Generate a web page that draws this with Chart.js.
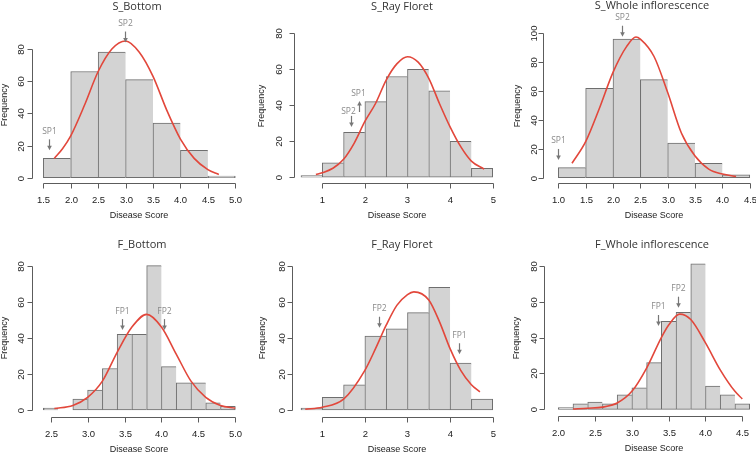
<!DOCTYPE html>
<html>
<head>
<meta charset="utf-8">
<script src="https://cdn.jsdelivr.net/npm/chart.js@4.4.1/dist/chart.umd.min.js"></script>
<style>
html,body{margin:0;padding:0;background:#fff;}
#wrap{position:relative;width:756px;height:452px;overflow:hidden;background:#fff;}
#wrap canvas{position:absolute;}
</style>
</head>
<body>
<div id="wrap"></div>
<script>
// ---------- DATA ----------
// S_Bottom
const sBottomBinMids = [1.75, 2.25, 2.75, 3.25, 3.75, 4.25, 4.75];
const sBottomCounts  = [12, 66, 78, 61, 34, 17, 1];
const sBottomCurveX  = [1.7, 1.85, 2.0, 2.25, 2.5, 2.75, 3.0, 3.25, 3.5, 3.75, 4.0, 4.25, 4.5, 4.7];
const sBottomCurveY  = [12, 18, 26, 45, 66, 80, 85, 78, 63, 42, 24, 12, 5, 2];
const sBottomTicksX  = ['1.5', '2.0', '2.5', '3.0', '3.5', '4.0', '4.5', '5.0'];
const sBottomTicksY  = [0, 20, 40, 60, 80];
const sBottomMarkLabels = ['SP1', 'SP2'];
const sBottomMarkX   = [1.61, 2.99];
const sBottomMarkY   = [17, 84];
const sBottomMarkDir = ['down', 'down'];

// S_Ray Floret
const sRayBinMids = [0.75, 1.25, 1.75, 2.25, 2.75, 3.25, 3.75, 4.25, 4.75];
const sRayCounts  = [1, 8, 25, 42, 56, 60, 48, 20, 5];
const sRayCurveX  = [0.85, 1.0, 1.25, 1.5, 1.75, 2.0, 2.25, 2.5, 2.75, 3.0, 3.25, 3.5, 3.75, 4.0, 4.25, 4.5, 4.8];
const sRayCurveY  = [1.5, 2.5, 5, 10, 19, 31, 41, 54, 63, 67, 64, 55, 41, 28, 17, 9, 4.5];
const sRayTicksX  = ['1', '2', '3', '4', '5'];
const sRayTicksY  = [0, 20, 40, 60, 80];
const sRayMarkLabels = ['SP1', 'SP2'];
const sRayMarkX   = [1.86, 1.67];
const sRayMarkY   = [42.4, 28];
const sRayMarkDir = ['up', 'down'];

// S_Whole inflorescence
const sWholeBinMids = [1.25, 1.75, 2.25, 2.75, 3.25, 3.75, 4.25];
const sWholeCounts  = [7, 62, 96, 68, 24, 10, 2];
const sWholeCurveX  = [1.25, 1.5, 1.75, 2.0, 2.25, 2.42, 2.5, 2.75, 3.0, 3.25, 3.5, 3.75, 4.0, 4.25];
const sWholeCurveY  = [10, 25, 48, 73, 91, 97.5, 96, 84, 59, 31, 15, 6, 2.5, 0.8];
const sWholeTicksX  = ['1.0', '1.5', '2.0', '2.5', '3.0', '3.5', '4.0', '4.5'];
const sWholeTicksY  = [0, 20, 40, 60, 80, 100];
const sWholeMarkLabels = ['SP1', 'SP2'];
const sWholeMarkX   = [0.99, 2.17];
const sWholeMarkY   = [12.3, 97.7];
const sWholeMarkDir = ['down', 'down'];

// F_Bottom
const fBottomBinMids = [2.5, 2.7, 2.9, 3.1, 3.3, 3.5, 3.7, 3.9, 4.1, 4.3, 4.5, 4.7, 4.9];
const fBottomCounts  = [1, 0, 6, 11, 23, 42, 42, 80, 24, 15, 15, 4, 2];
const fBottomCurveX  = [2.55, 2.8, 3.0, 3.2, 3.4, 3.6, 3.8, 4.0, 4.2, 4.4, 4.6, 4.8, 5.0];
const fBottomCurveY  = [0.8, 2.5, 7, 16, 32, 46, 53, 46, 31, 16, 7, 2.5, 1];
const fBottomTicksX  = ['2.5', '3.0', '3.5', '4.0', '4.5', '5.0'];
const fBottomTicksY  = [0, 20, 40, 60, 80];
const fBottomMarkLabels = ['FP1', 'FP2'];
const fBottomMarkX   = [3.46, 4.04];
const fBottomMarkY   = [44.3, 44.3];
const fBottomMarkDir = ['down', 'down'];

// F_Ray Floret
const fRayBinMids = [0.75, 1.25, 1.75, 2.25, 2.75, 3.25, 3.75, 4.25, 4.75];
const fRayCounts  = [1, 7, 14, 41, 45, 54, 68, 26, 6];
const fRayCurveX  = [0.6, 1.0, 1.5, 2.0, 2.25, 2.5, 2.75, 3.0, 3.15, 3.5, 3.75, 4.0, 4.25, 4.5, 4.7];
const fRayCurveY  = [0.4, 1.5, 6, 22, 34, 47, 58, 64, 65.5, 61, 49, 34, 22, 14, 10];
const fRayTicksX  = ['1', '2', '3', '4', '5'];
const fRayTicksY  = [0, 20, 40, 60, 80];
const fRayMarkLabels = ['FP2', 'FP1'];
const fRayMarkX   = [2.34, 4.22];
const fRayMarkY   = [45.6, 30.9];
const fRayMarkDir = ['down', 'down'];

// F_Whole inflorescence
const fWholeBinMids = [2.1, 2.3, 2.5, 2.7, 2.9, 3.1, 3.3, 3.5, 3.7, 3.9, 4.1, 4.3, 4.5];
const fWholeCounts  = [1, 3, 4, 3, 8, 12, 26, 49, 54, 81, 13, 8, 3];
const fWholeCurveX  = [2.2, 2.4, 2.6, 2.8, 3.0, 3.2, 3.4, 3.5, 3.65, 3.8, 4.0, 4.2, 4.4, 4.5];
const fWholeCurveY  = [0.2, 0.6, 1.2, 3.5, 10, 23, 40, 47, 53, 50, 37, 22, 10, 5.8];
const fWholeTicksX  = ['2.0', '2.5', '3.0', '3.5', '4.0', '4.5'];
const fWholeTicksY  = [0, 20, 40, 60, 80];
const fWholeMarkLabels = ['FP1', 'FP2'];
const fWholeMarkX   = [3.36, 3.62];
const fWholeMarkY   = [46.4, 56.6];
const fWholeMarkDir = ['down', 'down'];

const panelTitles = ['S_Bottom', 'S_Ray Floret', 'S_Whole inflorescence',
                     'F_Bottom', 'F_Ray Floret', 'F_Whole inflorescence'];
const xAxisTitle = 'Disease Score';
const yAxisTitle = 'Frequency';

// ---------- PANELS (layout) ----------
const panels = [
  {title: panelTitles[0], mids: sBottomBinMids, counts: sBottomCounts, cx: sBottomCurveX, cy: sBottomCurveY,
   tx: sBottomTicksX, ty: sBottomTicksY, ml: sBottomMarkLabels, mx: sBottomMarkX, my: sBottomMarkY, md: sBottomMarkDir,
   col: 0, row: 0, pad: [32, 36, 6, 43], xr: [1.294, 5.195], yr: [-3.29, 88.07],
   titleX: 137, titleY: 7, xTitleX: 139, yTitleX: 5, yTitleY: 105, yTickOff: 11.5,
   textDx: [0, 0], textDy: [0, 0]},
  {title: panelTitles[1], mids: sRayBinMids, counts: sRayCounts, cx: sRayCurveX, cy: sRayCurveY,
   tx: sRayTicksX, ty: sRayTicksY, ml: sRayMarkLabels, mx: sRayMarkX, my: sRayMarkY, md: sRayMarkDir,
   col: 1, row: 0, pad: [42, 30, 4, 43], xr: [0.336, 5.172], yr: [-3.17, 81.83],
   titleX: 150, titleY: 7, xTitleX: 145, yTitleX: 10, yTitleY: 106, yTickOff: 15,
   textDx: [-1, -3], textDy: [0, 4]},
  {title: panelTitles[2], mids: sWholeBinMids, counts: sWholeCounts, cx: sWholeCurveX, cy: sWholeCurveY,
   tx: sWholeTicksX, ty: sWholeTicksY, ml: sWholeMarkLabels, mx: sWholeMarkX, my: sWholeMarkY, md: sWholeMarkDir,
   col: 2, row: 0, pad: [39, 30, 2, 43], xr: [0.72, 4.578], yr: [-3.67, 102.36],
   titleX: 148, titleY: 6, xTitleX: 150, yTitleX: 14, yTitleY: 106, yTickOff: 9.5,
   textDx: [0, 0], textDy: [0, 0]},
  {title: panelTitles[3], mids: fBottomBinMids, counts: fBottomCounts, cx: fBottomCurveX, cy: fBottomCurveY,
   tx: fBottomTicksX, ty: fBottomTicksY, ml: fBottomMarkLabels, mx: fBottomMarkX, my: fBottomMarkY, md: fBottomMarkDir,
   col: 0, row: 1, pad: [32, 35, 6, 35], xr: [2.247, 5.145], yr: [-3.88, 82.59],
   titleX: 142, titleY: 19, xTitleX: 139, yTitleX: 4.5, yTitleY: 112, yTickOff: 11,
   textDx: [0, 0], textDy: [0, 0]},
  {title: panelTitles[4], mids: fRayBinMids, counts: fRayCounts, cx: fRayCurveX, cy: fRayCurveY,
   tx: fRayTicksX, ty: fRayTicksY, ml: fRayMarkLabels, mx: fRayMarkX, my: fRayMarkY, md: fRayMarkDir,
   col: 1, row: 1, pad: [40, 35, 4, 35], xr: [0.289, 5.172], yr: [-3.88, 82.59],
   titleX: 150, titleY: 19, xTitleX: 145, yTitleX: 10.5, yTitleY: 112, yTickOff: 10.5,
   textDx: [0, 0], textDy: [0, 0]},
  {title: panelTitles[5], mids: fWholeBinMids, counts: fWholeCounts, cx: fWholeCurveX, cy: fWholeCurveY,
   tx: fWholeTicksX, ty: fWholeTicksY, ml: fWholeMarkLabels, mx: fWholeMarkX, my: fWholeMarkY, md: fWholeMarkDir,
   col: 2, row: 1, pad: [40, 35, 2, 36], xr: [1.806, 4.659], yr: [-3.73, 82.62],
   titleX: 148, titleY: 19, xTitleX: 150, yTitleX: 13, yTitleY: 112, yTickOff: 10.5,
   textDx: [0, 0], textDy: [0, 0]}
];

const TICK_FONT = '9.5px "Liberation Sans", Arial, sans-serif';
const LAB_FONT = '9px "Liberation Sans", Arial, sans-serif';
const TITLE_FONT = '11px "Open Sans", "Noto Sans", sans-serif';
const MARK_FONT = '8.5px "Open Sans", "Noto Sans", sans-serif';

function rStylePlugin(spec, idx) {
  return {
    id: 'rstyle' + idx,
    afterDraw(chart) {
      const ctx = chart.ctx, a = chart.chartArea;
      const xs = chart.scales.x, ys = chart.scales.y;
      ctx.save();
      ctx.lineWidth = 1;
      ctx.strokeStyle = '#5c5c5c';
      // x axis (R style: spans first to last tick)
      const ay = Math.round(a.bottom) + 0.5;
      const px = spec.tx.map(t => Math.round(xs.getPixelForValue(parseFloat(t))) + 0.5);
      ctx.beginPath();
      ctx.moveTo(px[0], ay); ctx.lineTo(px[px.length - 1], ay);
      px.forEach(p => { ctx.moveTo(p, ay); ctx.lineTo(p, ay + 5); });
      ctx.stroke();
      ctx.fillStyle = '#222';
      ctx.font = TICK_FONT;
      ctx.textAlign = 'center';
      ctx.textBaseline = 'middle';
      spec.tx.forEach((t, i) => ctx.fillText(t, px[i], ay + 17));
      // y axis
      const ax = Math.round(a.left) + 0.5;
      const py = spec.ty.map(v => Math.round(ys.getPixelForValue(v)) + 0.5);
      ctx.beginPath();
      ctx.moveTo(ax, py[0]); ctx.lineTo(ax, py[py.length - 1]);
      py.forEach(p => { ctx.moveTo(ax, p); ctx.lineTo(ax - 5, p); });
      ctx.stroke();
      spec.ty.forEach((v, i) => {
        ctx.save();
        ctx.translate(ax - spec.yTickOff, py[i]);
        ctx.rotate(-Math.PI / 2);
        ctx.fillText(String(v), 0, 0);
        ctx.restore();
      });
      // axis titles
      ctx.font = LAB_FONT;
      ctx.fillText(xAxisTitle, spec.xTitleX, ay + 32);
      ctx.save();
      ctx.translate(spec.yTitleX, spec.yTitleY);
      ctx.rotate(-Math.PI / 2);
      ctx.fillText(yAxisTitle, 0, 0);
      ctx.restore();
      // panel title
      ctx.font = TITLE_FONT;
      ctx.fillStyle = '#333';
      ctx.fillText(spec.title, spec.titleX, spec.titleY);
      // marker arrows
      ctx.font = MARK_FONT;
      spec.ml.forEach((lab, i) => {
        const mx = Math.round(xs.getPixelForValue(spec.mx[i])) + 0.5;
        const my = ys.getPixelForValue(spec.my[i]);
        ctx.strokeStyle = '#777';
        ctx.fillStyle = '#777';
        ctx.lineWidth = 1.2;
        let textY;
        ctx.beginPath();
        if (spec.md[i] === 'down') {
          ctx.moveTo(mx, my - 11); ctx.lineTo(mx, my - 3);
          ctx.stroke();
          ctx.beginPath();
          ctx.moveTo(mx - 2.3, my - 4.5); ctx.lineTo(mx + 2.3, my - 4.5); ctx.lineTo(mx, my);
          ctx.closePath(); ctx.fill();
          textY = my - 19;
        } else {
          ctx.moveTo(mx, my + 3); ctx.lineTo(mx, my + 11);
          ctx.stroke();
          ctx.beginPath();
          ctx.moveTo(mx - 2.3, my + 4.5); ctx.lineTo(mx + 2.3, my + 4.5); ctx.lineTo(mx, my);
          ctx.closePath(); ctx.fill();
          textY = my - 7;
        }
        ctx.fillStyle = '#8a8a8a';
        ctx.fillText(lab, mx + spec.textDx[i], textY + spec.textDy[i]);
      });
      ctx.restore();
    }
  };
}

const wrap = document.getElementById('wrap');
panels.forEach((spec, idx) => {
  const cv = document.createElement('canvas');
  cv.width = 252; cv.height = 226;
  cv.style.left = (spec.col * 252) + 'px';
  cv.style.top = (spec.row * 226) + 'px';
  cv.style.width = '252px'; cv.style.height = '226px';
  wrap.appendChild(cv);
  const bars = spec.mids.map((m, i) => ({x: m, y: spec.counts[i]}));
  const curve = spec.cx.map((x, i) => ({x: x, y: spec.cy[i]}));
  const last = bars.length - 1;
  new Chart(cv, {
    type: 'bar',
    data: {
      datasets: [
        {type: 'line', data: curve, borderColor: '#e2473b', borderWidth: 1.6, pointRadius: 0,
         cubicInterpolationMode: 'monotone', fill: false, order: 0, clip: false},
        {type: 'bar', data: bars, backgroundColor: '#d3d3d3', borderColor: '#6e6e6e',
         borderWidth: c => ({top: 1, left: 1, bottom: 1, right: c.dataIndex === last ? 1 : 0}),
         borderSkipped: false, barPercentage: 1, categoryPercentage: 1, order: 1}
      ]
    },
    options: {
      responsive: false, animation: false, devicePixelRatio: 1,
      layout: {padding: {left: spec.pad[0], top: spec.pad[1], right: spec.pad[2], bottom: spec.pad[3]}},
      plugins: {legend: {display: false}, tooltip: {enabled: false}, title: {display: false}},
      scales: {
        x: {type: 'linear', display: false, min: spec.xr[0], max: spec.xr[1], offset: false,
            grid: {offset: false},
            afterBuildTicks: s => { s.ticks = spec.tx.map(t => ({value: parseFloat(t)})); }},
        y: {type: 'linear', display: false, min: spec.yr[0], max: spec.yr[1],
            afterBuildTicks: s => { s.ticks = spec.ty.map(v => ({value: v})); }}
      }
    },
    plugins: [rStylePlugin(spec, idx)]
  });
});
</script>
</body>
</html>
